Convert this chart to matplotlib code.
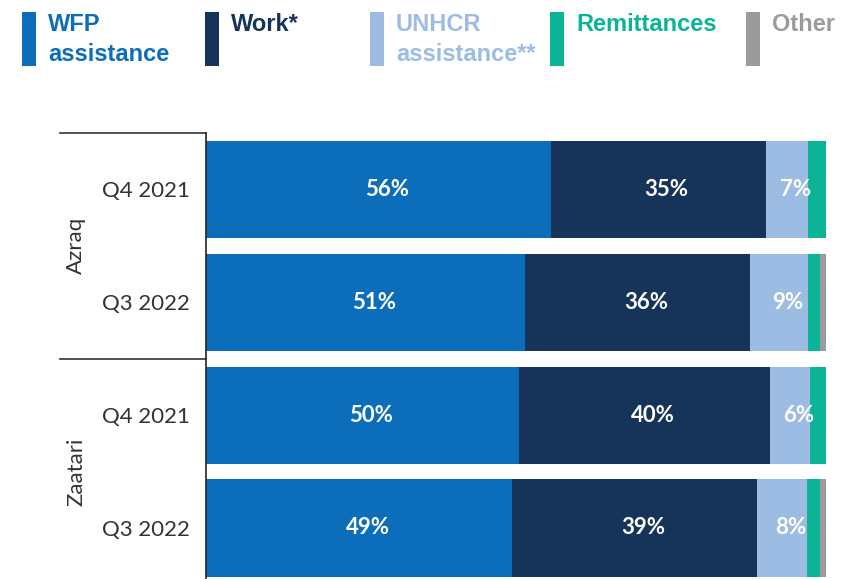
import numpy as np
import matplotlib.pyplot as plt
import matplotlib.transforms as mtransforms
from matplotlib.patches import Rectangle

# data
series = ['WFP\nassistance', 'Work*', 'UNHCR\nassistance**', 'Remittances', 'Other']
colors = ['#0C6EBA', '#163459', '#9CBCE3', '#0BB495', '#9B9B9B']
bars = ['Q4 2021', 'Q3 2022', 'Q4 2021', 'Q3 2022']
groups = ['Azraq', 'Zaatari']
wfp = [55.6, 51.49, 50.49, 49.4]
work = [34.7, 36.3, 40.49, 39.4]
unhcr = [6.8, 9.3, 6.49, 8.2]
remit = [2.9, 1.9, 2.53, 2.0]
other = [0.0, 1.01, 0.0, 1.0]
values = [wfp, work, unhcr, remit, other]
show_label = [True, True, True, False, False]

W, H = 859, 579
fig = plt.figure(figsize=(W / 100, H / 100), dpi=100)
ax = fig.add_axes([206 / W, 0, 620 / W, (H - 133) / H])

y = np.arange(len(bars))
left = np.zeros(len(bars))
for vals, col, lab in zip(values, colors, show_label):
    vals = np.array(vals)
    ax.barh(y, vals, left=left, height=0.86, color=col, linewidth=0)
    if lab:
        for yi, l, v in zip(y, left, vals):
            ax.annotate(f'{round(v)}%', (l + v / 2, yi), xytext=(6, 0),
                        textcoords='offset points', ha='center', va='center',
                        color='white', fontsize=16, family='Lato', weight='bold')
    left = left + vals

ax.set_xlim(0, 100)
ax.set_ylim(3.452, -0.5)
ax.set_xticks([])
ax.set_yticks(y)
ax.set_yticklabels(bars, fontsize=16, family='Lato', color='#333333')
ax.tick_params(axis='y', length=0, pad=11.5)
for s in ['top', 'right', 'bottom']:
    ax.spines[s].set_visible(False)
ax.spines['left'].set_color('#222222')
ax.spines['left'].set_linewidth(1.2)

# group separators and labels
trans = mtransforms.blended_transform_factory(ax.transAxes, ax.transData)
x0 = (60 - 206) / 620
for yy in [-0.5, 1.5]:
    ax.plot([x0, 0], [yy, yy], transform=trans, color='#333333', lw=1.2, clip_on=False)
for i, g in enumerate(groups):
    ax.text((76 - 206) / 620, 2 * i + 0.5, g, transform=trans, rotation=90,
            ha='center', va='center', fontsize=16, family='Lato', color='#333333')

# legend
patch_x = [22, 205, 370, 550, 746]
for px, name, col in zip(patch_x, series, colors):
    fig.add_artist(Rectangle((px / W, 1 - 66 / H), 14 / W, 54 / H,
                             transform=fig.transFigure, color=col, lw=0))
    fig.text((px + 26) / W, 1 - 13 / H, name, ha='left', va='top', color=col,
             fontsize=17, family='Liberation Sans', weight='bold', linespacing=1.38)

fig.savefig('out.png', dpi=100)
